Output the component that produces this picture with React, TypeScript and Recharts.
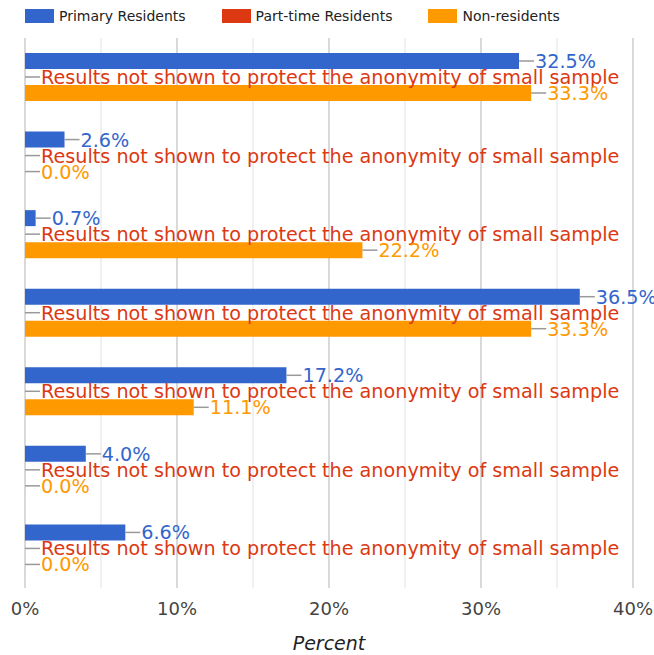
import React from 'react';
import {
  BarChart,
  Bar,
  XAxis,
  YAxis,
  CartesianGrid,
  LabelList,
} from 'recharts';

// categories are not labelled on the chart itself
const CATEGORIES = ['Option 1', 'Option 2', 'Option 3', 'Option 4', 'Option 5', 'Option 6', 'Option 7'];
const PRIMARY = [32.5, 2.6, 0.7, 36.5, 17.2, 4.0, 6.6];
// part-time results are suppressed for every category
const PART_TIME: (number | null)[] = [null, null, null, null, null, null, null];
const NON_RES = [33.3, 0.0, 22.2, 33.3, 11.1, 0.0, 0.0];
const X_TICKS = [0, 5, 10, 15, 20, 25, 30, 35, 40];
const HIDDEN_NOTE = 'Results not shown to protect the anonymity of small sample';

const SERIES = [
  { key: 'primary', name: 'Primary Residents', color: '#3366cc', raw: PRIMARY as (number | null)[] },
  { key: 'partTime', name: 'Part-time Residents', color: '#dc3912', raw: PART_TIME },
  { key: 'nonRes', name: 'Non-residents', color: '#ff9900', raw: NON_RES as (number | null)[] },
];

const data = CATEGORIES.map((c, i) => ({
  category: c,
  primary: PRIMARY[i],
  partTime: PART_TIME[i] ?? 0,
  nonRes: NON_RES[i],
}));

const makeLabel = (color: string, raw: (number | null)[]) => (props: any) => {
  const { x, y, width, height, index } = props;
  const v = raw[index];
  const x0 = Number(x) + Number(width || 0);
  const cy = Number(y) + Number(height) / 2;
  const text = v == null ? HIDDEN_NOTE : `${v.toFixed(1)}%`;
  return (
    <g>
      <line x1={x0} y1={cy} x2={x0 + 15} y2={cy} stroke="#999" strokeWidth={1.5} />
      <text x={x0 + 16} y={cy + 0.5} fill={color} fontSize={19.2} dominantBaseline="central">
        {text}
      </text>
    </g>
  );
};

const gridLine = (props: any) => {
  const { x1, y1, x2, y2, index } = props;
  const major = index % 2 === 0;
  return (
    <line
      key={`g-${index}`}
      x1={x1}
      y1={y1}
      x2={x2}
      y2={y2}
      stroke={major ? '#cccccc' : '#ebebeb'}
      strokeWidth={1.5}
    />
  );
};

export default function App() {
  return (
    <div style={{ position: 'relative', width: 654, height: 655, fontFamily: '"DejaVu Sans", sans-serif', background: '#fff' }}>
      <style>{'body{margin:0}'}</style>
      <div style={{ position: 'absolute', top: 8, left: 25, display: 'flex', alignItems: 'center', zIndex: 1 }}>
        {SERIES.map(s => (
          <div key={s.key} style={{ display: 'flex', alignItems: 'center', marginRight: 36 }}>
            <span style={{ display: 'inline-block', width: 29, height: 14, background: s.color, marginRight: 5 }} />
            <span style={{ fontSize: 14, color: '#222' }}>{s.name}</span>
          </div>
        ))}
      </div>
      <BarChart
        width={654}
        height={655}
        data={data}
        layout="vertical"
        margin={{ top: 38, right: 21, left: 25, bottom: 0 }}
        barSize={16}
        barGap={0}
      >
        <CartesianGrid horizontal={false} vertical={gridLine} />
        <XAxis
          type="number"
          domain={[0, 40]}
          ticks={X_TICKS}
          interval={0}
          tickFormatter={(v: number) => (v % 10 === 0 ? `${v}%` : '')}
          axisLine={false}
          tickLine={false}
          tickMargin={8}
          tick={{ fill: '#444', fontSize: 18 }}
          height={67}
          label={{ value: 'Percent', position: 'insideBottom', offset: 5, fill: '#222', fontSize: 19, fontStyle: 'italic' }}
        />
        <YAxis
          type="category"
          dataKey="category"
          width={0}
          tick={false}
          tickLine={false}
          axisLine={{ stroke: '#333', strokeWidth: 2 }}
        />
        {SERIES.map(s => (
          <Bar
            key={s.key}
            dataKey={s.key}
            name={s.name}
            fill={s.color}
            minPointSize={0.01}
            isAnimationActive={false}
          >
            <LabelList dataKey={s.key} content={makeLabel(s.color, s.raw)} />
          </Bar>
        ))}
      </BarChart>
    </div>
  );
}
